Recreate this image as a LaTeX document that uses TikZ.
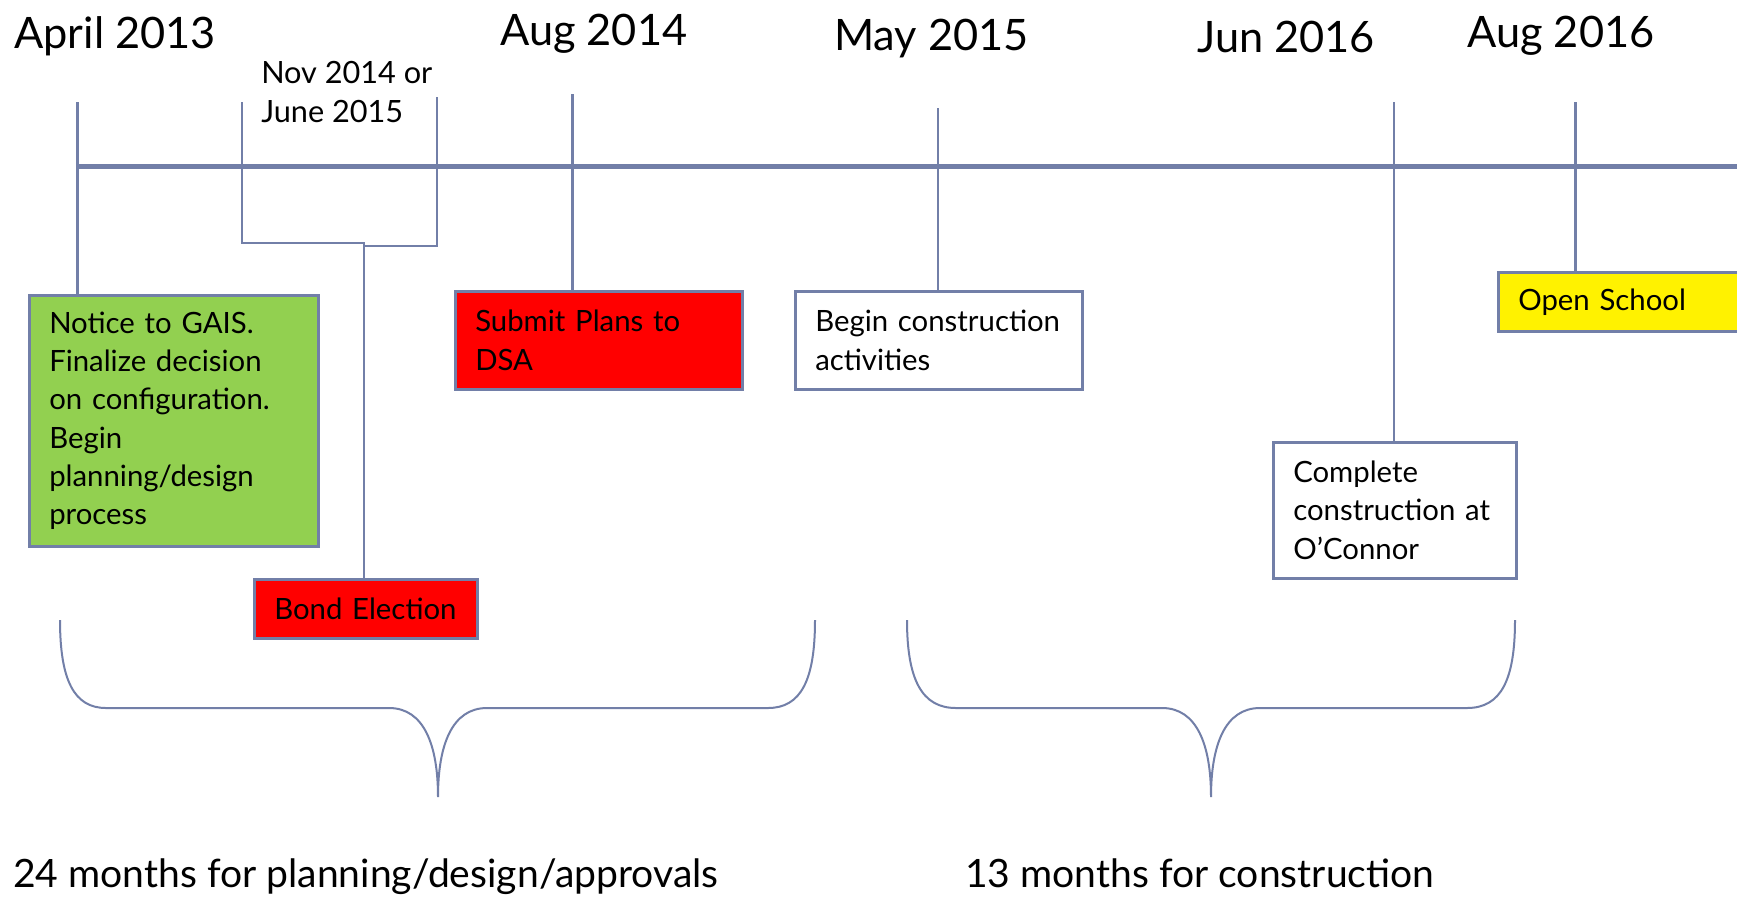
\documentclass[tikz,border=0pt]{standalone}
\usepackage{fontspec}
\setmainfont{Lato}
\definecolor{slate}{RGB}{114,127,168}
\definecolor{boxgreen}{RGB}{146,208,80}
\begin{document}
\begin{tikzpicture}[x=0.75pt,y=-0.75pt,
  title/.style={font=\fontsize{32.5}{39}\selectfont, anchor=base west, inner sep=0pt},
  note/.style={font=\fontsize{23}{29.25}\selectfont, anchor=base west, inner sep=0pt, align=left},
  span/.style={font=\fontsize{29.3}{36}\selectfont, anchor=base west, inner sep=0pt},
  evbox/.style={draw=slate, line width=1.9pt, inner xsep=15pt, inner ysep=0pt, align=left, anchor=north west,
    font=\fontsize{22}{28.7}\selectfont, execute at begin node={\hyphenpenalty=10000\exhyphenpenalty=10000}},
  axisline/.style={draw=slate, line width=3.75pt},
  tickthick/.style={draw=slate, line width=2.25pt},
  tickthin/.style={draw=slate, line width=1.5pt},
  brace/.style={draw=slate, line width=1.5pt},
]
\clip (0,0) rectangle (1737,897);
\fill[white] (0,0) rectangle (1737,897);

% date labels
\node[title] (t13) at (14,48) {April 2013};
\node[title] (t14) at (500,45) {Aug 2014};
\node[title] (t15) at (834,50) {May 2015};
\node[title] (t16a) at (1197,52) {Jun 2016};
\node[title] (t16b) at (1467,47) {Aug 2016};
\node[note] (nov) at (261,122) {Nov 2014 or\\June 2015};

% axis
\coordinate (axL) at (77,166);
\coordinate (axR) at (1745,166);
\draw[axisline] (axL) -- (axR);

% event boxes
\node[evbox, fill=boxgreen, text width=186.75pt, minimum height=188.25pt] (green) at (28,294)
  {Notice to GAIS.\\Finalize decision\\on configuration.\\Begin\\planning/design\\process};
\node[evbox, fill=red, text width=137.25pt, minimum height=44.25pt] (bond) at (253,578) {\mbox{Bond Election}};
\node[evbox, fill=red, text width=185.25pt, minimum height=73.5pt] (dsa) at (454,290) {\mbox{Submit Plans to}\\DSA};
\node[evbox, fill=white, text width=185.25pt, minimum height=73.5pt] (begin) at (794,290) {\mbox{Begin construction}\\activities};
\node[evbox, fill=white, text width=152.25pt, minimum height=102pt] (complete) at (1272,441) {Complete\\\mbox{construction at}\\O’Connor};
\node[evbox, fill=yellow, text width=197.25pt, minimum height=44.25pt] (open) at (1497,271) {Open School};

% ticks
\coordinate (tkA) at (77,102);
\coordinate (tkB) at (572,94);
\coordinate (tkC) at (938,108);
\coordinate (tkD) at (1394,102);
\coordinate (tkE) at (1575,102);
\draw[tickthick] (tkA) -- (tkA |- green.north);
\draw[tickthick] (tkB) -- (tkB |- dsa.north);
\draw[tickthin] (tkC) -- (tkC |- begin.north);
\draw[tickthin] (tkD) -- (tkD |- complete.north);
\draw[tickthick] (tkE) -- (tkE |- open.north);

% bond election bracket
\coordinate (brL) at (242,102);
\coordinate (brR) at (437,97);
\coordinate (brJ) at (364,243);
\draw[tickthin] (brL) -- (brL |- brJ) -- (brJ) -- ++(0,3) -| (brR);
\draw[tickthin] (brJ) -- (brJ |- bond.north);

% braces
\draw[brace] (60,620) .. controls (60,680) and (74,708) .. (106,708) -- (389,708)
  .. controls (424,708) and (438,745) .. (438,797)
  .. controls (438,745) and (452,708) .. (487,708) -- (768,708)
  .. controls (801,708) and (815,680) .. (815,620);
\draw[brace] (907,620) .. controls (907,680) and (922,708) .. (956,708) -- (1162,708)
  .. controls (1197,708) and (1211,745) .. (1211,797)
  .. controls (1211,745) and (1225,708) .. (1260,708) -- (1467,708)
  .. controls (1501,708) and (1515,680) .. (1515,620);

% spans
\node[span] (plan) at (13,887) {24 months for planning/design/approvals};
\node[span] (constr) at (965,887) {13 months for construction};
\end{tikzpicture}
\end{document}
